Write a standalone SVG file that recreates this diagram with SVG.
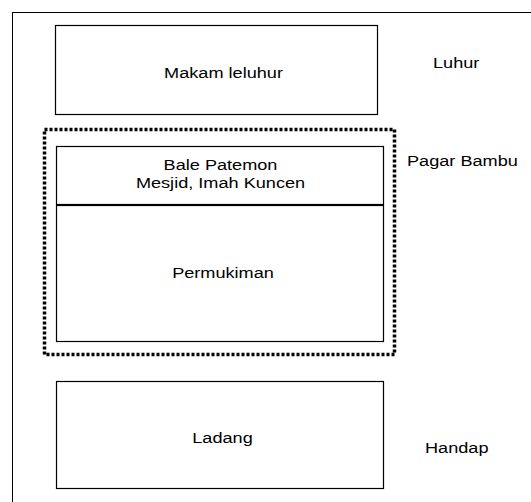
<svg xmlns="http://www.w3.org/2000/svg" width="531" height="502" viewBox="0 0 531 502">
<style>
.box{fill:#fff;stroke:#000;stroke-width:1.2}
.t{font-family:"Liberation Sans",Arial,sans-serif;font-size:15px;fill:#000}
.c{text-anchor:middle}
</style>
<rect x="0" y="0" width="531" height="502" fill="#fff"/>
<rect x="12.5" y="12.5" width="530" height="500" fill="none" stroke="#000" stroke-width="1"/>
<g id="makam">
<rect class="box" x="55.5" y="25.5" width="322" height="89"/>
<text class="t c" transform="translate(223.5,78) scale(1.21,1)">Makam leluhur</text>
</g>
<text class="t" transform="translate(433,68) scale(1.21,1)">Luhur</text>
<g id="pagar">
<rect x="44.5" y="129.5" width="350" height="225" fill="none" stroke="#000" stroke-width="3.5" stroke-dasharray="3,2"/>
</g>
<text class="t" transform="translate(407,166) scale(1.21,1)">Pagar Bambu</text>
<g id="bale">
<rect class="box" x="56.5" y="146.5" width="327" height="58"/>
<text class="t c" transform="translate(220.5,170) scale(1.21,1)">Bale Patemon</text>
<text class="t c" transform="translate(220.5,188) scale(1.21,1)">Mesjid, Imah Kuncen</text>
</g>
<g id="permukiman">
<rect class="box" x="56.5" y="205.5" width="327" height="136"/>
<text class="t c" transform="translate(223,278) scale(1.21,1)">Permukiman</text>
</g>
<g id="ladang">
<rect class="box" x="56.5" y="381.5" width="327" height="107"/>
<text class="t c" transform="translate(222.5,443) scale(1.21,1)">Ladang</text>
</g>
<text class="t" transform="translate(425,453) scale(1.21,1)">Handap</text>
</svg>
